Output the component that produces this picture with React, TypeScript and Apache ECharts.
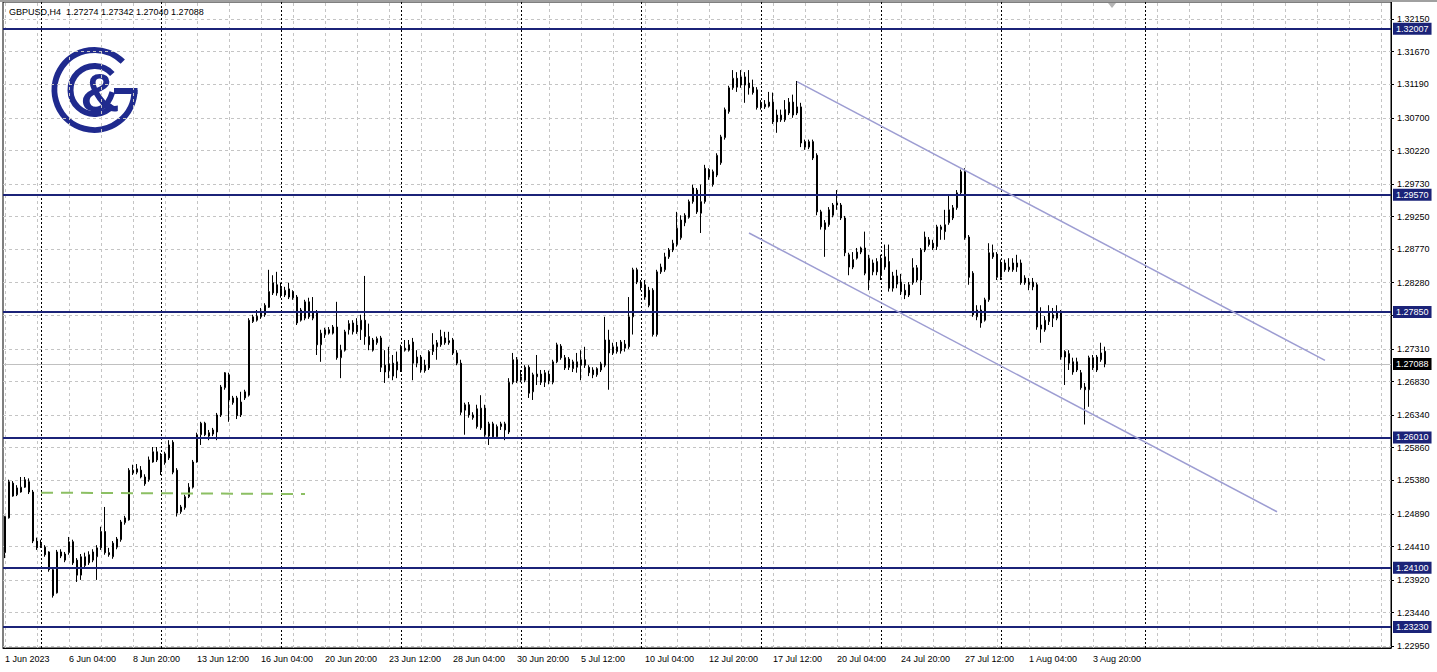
import React, { useEffect, useRef } from 'react';
import * as echarts from 'echarts';

const FONT = '"Liberation Sans", Arial, sans-serif';
const NAVY = '#1b2378';
const LOGO = '#1f2a8e';

const headerText = 'GBPUSD,H4  1.27274 1.27342 1.27040 1.27088';

const opens = [
  1.2432, 1.2483, 1.2534, 1.2517, 1.2521, 1.2528, 1.2536, 1.2521, 1.2449, 1.2442,
  1.2440, 1.2433, 1.2407, 1.2373, 1.2427, 1.2421, 1.2432, 1.2448, 1.2421, 1.2399,
  1.2413, 1.2417, 1.2421, 1.2426, 1.2439, 1.2463, 1.2432, 1.2426, 1.2440, 1.2451,
  1.2476, 1.2480, 1.2549, 1.2550, 1.2553, 1.2543, 1.2539, 1.2565, 1.2580, 1.2553,
  1.2564, 1.2571, 1.2594, 1.2553, 1.2492, 1.2498, 1.2514, 1.2528, 1.2565, 1.2605,
  1.2622, 1.2603, 1.2606, 1.2609, 1.2634, 1.2674, 1.2693, 1.2652, 1.2659, 1.2634,
  1.2659, 1.2663, 1.2771, 1.2773, 1.2778, 1.2781, 1.2792, 1.2813, 1.2825, 1.2820,
  1.2810, 1.2819, 1.2815, 1.2807, 1.2773, 1.2776, 1.2800, 1.2776, 1.2784, 1.2737,
  1.2752, 1.2754, 1.2754, 1.2763, 1.2718, 1.2729, 1.2759, 1.2756, 1.2766, 1.2759,
  1.2773, 1.2749, 1.2729, 1.2740, 1.2747, 1.2707, 1.2699, 1.2710, 1.2700, 1.2700,
  1.2729, 1.2729, 1.2741, 1.2710, 1.2719, 1.2707, 1.2703, 1.2727, 1.2734, 1.2737,
  1.2747, 1.2740, 1.2744, 1.2725, 1.2710, 1.2641, 1.2649, 1.2630, 1.2643, 1.2615,
  1.2644, 1.2603, 1.2621, 1.2602, 1.2617, 1.2612, 1.2609, 1.2682, 1.2715, 1.2685,
  1.2685, 1.2704, 1.2668, 1.2690, 1.2694, 1.2682, 1.2694, 1.2682, 1.2712, 1.2735,
  1.2718, 1.2716, 1.2702, 1.2704, 1.2707, 1.2715, 1.2704, 1.2700, 1.2693, 1.2700,
  1.2707, 1.2744, 1.2725, 1.2727, 1.2728, 1.2732, 1.2734, 1.2778, 1.2847, 1.2829,
  1.2825, 1.2817, 1.2817, 1.2752, 1.2844, 1.2847, 1.2866, 1.2876, 1.2884, 1.2894,
  1.2916, 1.2924, 1.2947, 1.2964, 1.2930, 1.2947, 1.2994, 1.2972, 1.2986, 1.3004,
  1.3041, 1.3079, 1.3114, 1.3128, 1.3118, 1.3130, 1.3121, 1.3115, 1.3111, 1.3085,
  1.3086, 1.3087, 1.3093, 1.3074, 1.3067, 1.3067, 1.3077, 1.3093, 1.3077, 1.3086,
  1.3035, 1.3027, 1.3035, 1.3015, 1.2932, 1.2906, 1.2913, 1.2927, 1.2942, 1.2942,
  1.2923, 1.2869, 1.2851, 1.2864, 1.2873, 1.2879, 1.2832, 1.2844, 1.2859, 1.2839,
  1.2866, 1.2859, 1.2820, 1.2838, 1.2829, 1.2817, 1.2810, 1.2828, 1.2832, 1.2832,
  1.2876, 1.2891, 1.2886, 1.2881, 1.2906, 1.2913, 1.2916, 1.2923, 1.2938, 1.2960,
  1.2991, 1.2895, 1.2842, 1.2778, 1.2788, 1.2773, 1.2803, 1.2872, 1.2870, 1.2836,
  1.2857, 1.2847, 1.2847, 1.2851, 1.2857, 1.2835, 1.2825, 1.2829, 1.2825, 1.2760,
  1.2759, 1.2771, 1.2776, 1.2776, 1.2785, 1.2727, 1.2724, 1.2712, 1.2712, 1.2696,
  1.2675, 1.2671, 1.2703, 1.2719, 1.2715, 1.27274,
];

const highs = [
  1.2486, 1.2539, 1.2537, 1.2531, 1.2543, 1.2543, 1.2541, 1.2524, 1.2454, 1.2451,
  1.2443, 1.2434, 1.2410, 1.2436, 1.2437, 1.2433, 1.2455, 1.2451, 1.2424, 1.2430,
  1.2432, 1.2434, 1.2437, 1.2443, 1.2470, 1.2499, 1.2439, 1.2449, 1.2455, 1.2480,
  1.2486, 1.2556, 1.2561, 1.2562, 1.2559, 1.2547, 1.2573, 1.2587, 1.2587, 1.2578,
  1.2580, 1.2597, 1.2597, 1.2556, 1.2502, 1.2517, 1.2534, 1.2568, 1.2608, 1.2624,
  1.2624, 1.2612, 1.2615, 1.2637, 1.2678, 1.2697, 1.2696, 1.2662, 1.2662, 1.2668,
  1.2671, 1.2776, 1.2781, 1.2788, 1.2791, 1.2798, 1.2847, 1.2839, 1.2844, 1.2828,
  1.2822, 1.2828, 1.2817, 1.2810, 1.2791, 1.2803, 1.2806, 1.2807, 1.2788, 1.2759,
  1.2762, 1.2763, 1.2766, 1.2800, 1.2737, 1.2759, 1.2773, 1.2773, 1.2776, 1.2781,
  1.2838, 1.2768, 1.2747, 1.2749, 1.2750, 1.2729, 1.2734, 1.2722, 1.2727, 1.2737,
  1.2744, 1.2744, 1.2747, 1.2729, 1.2722, 1.2715, 1.2729, 1.2754, 1.2744, 1.2759,
  1.2756, 1.2756, 1.2747, 1.2729, 1.2715, 1.2652, 1.2653, 1.2638, 1.2649, 1.2663,
  1.2649, 1.2624, 1.2624, 1.2620, 1.2624, 1.2624, 1.2688, 1.2725, 1.2719, 1.2700,
  1.2707, 1.2707, 1.2696, 1.2722, 1.2700, 1.2700, 1.2699, 1.2715, 1.2740, 1.2738,
  1.2722, 1.2719, 1.2715, 1.2725, 1.2729, 1.2734, 1.2707, 1.2704, 1.2704, 1.2712,
  1.2778, 1.2759, 1.2740, 1.2741, 1.2744, 1.2744, 1.2807, 1.2850, 1.2850, 1.2832,
  1.2832, 1.2822, 1.2820, 1.2847, 1.2856, 1.2872, 1.2879, 1.2891, 1.2932, 1.2927,
  1.2930, 1.2950, 1.2972, 1.2967, 1.2972, 1.3001, 1.2996, 1.2994, 1.3018, 1.3045,
  1.3085, 1.3117, 1.3140, 1.3137, 1.3140, 1.3137, 1.3140, 1.3126, 1.3115, 1.3096,
  1.3096, 1.3108, 1.3107, 1.3082, 1.3082, 1.3096, 1.3099, 1.3104, 1.3124, 1.3092,
  1.3038, 1.3038, 1.3038, 1.3018, 1.2935, 1.2920, 1.2939, 1.2945, 1.2964, 1.2945,
  1.2926, 1.2872, 1.2873, 1.2879, 1.2881, 1.2903, 1.2869, 1.2862, 1.2864, 1.2869,
  1.2884, 1.2884, 1.2844, 1.2847, 1.2841, 1.2826, 1.2829, 1.2864, 1.2854, 1.2879,
  1.2903, 1.2895, 1.2891, 1.2913, 1.2913, 1.2935, 1.2957, 1.2942, 1.2964, 1.2994,
  1.2996, 1.2898, 1.2845, 1.2795, 1.2795, 1.2806, 1.2886, 1.2884, 1.2873, 1.2862,
  1.2862, 1.2864, 1.2864, 1.2869, 1.2862, 1.2839, 1.2835, 1.2835, 1.2828, 1.2792,
  1.2779, 1.2795, 1.2791, 1.2795, 1.2788, 1.2729, 1.2729, 1.2718, 1.2718, 1.2700,
  1.2681, 1.2721, 1.2722, 1.2722, 1.2740, 1.27342,
];

const lows = [
  1.2424, 1.2482, 1.2514, 1.2515, 1.2520, 1.2527, 1.2518, 1.2446, 1.2436, 1.2439,
  1.2426, 1.2404, 1.2366, 1.2372, 1.2424, 1.2418, 1.2429, 1.2414, 1.2389, 1.2392,
  1.2410, 1.2414, 1.2418, 1.2392, 1.2436, 1.2429, 1.2426, 1.2423, 1.2437, 1.2448,
  1.2473, 1.2479, 1.2546, 1.2547, 1.2541, 1.2530, 1.2536, 1.2564, 1.2565, 1.2546,
  1.2561, 1.2568, 1.2547, 1.2485, 1.2489, 1.2495, 1.2512, 1.2526, 1.2564, 1.2590,
  1.2603, 1.2597, 1.2603, 1.2597, 1.2631, 1.2671, 1.2624, 1.2649, 1.2628, 1.2631,
  1.2656, 1.2661, 1.2769, 1.2771, 1.2775, 1.2778, 1.2791, 1.2810, 1.2809, 1.2806,
  1.2807, 1.2804, 1.2803, 1.2766, 1.2771, 1.2773, 1.2775, 1.2773, 1.2722, 1.2712,
  1.2747, 1.2752, 1.2752, 1.2715, 1.2688, 1.2727, 1.2752, 1.2752, 1.2753, 1.2744,
  1.2737, 1.2729, 1.2727, 1.2737, 1.2697, 1.2681, 1.2688, 1.2685, 1.2688, 1.2697,
  1.2727, 1.2727, 1.2685, 1.2704, 1.2696, 1.2696, 1.2700, 1.2722, 1.2715, 1.2734,
  1.2737, 1.2737, 1.2722, 1.2707, 1.2634, 1.2605, 1.2630, 1.2627, 1.2614, 1.2612,
  1.2602, 1.2590, 1.2599, 1.2599, 1.2612, 1.2597, 1.2606, 1.2679, 1.2681, 1.2682,
  1.2682, 1.2659, 1.2656, 1.2678, 1.2678, 1.2675, 1.2679, 1.2679, 1.2710, 1.2715,
  1.2700, 1.2700, 1.2697, 1.2696, 1.2685, 1.2703, 1.2691, 1.2688, 1.2690, 1.2697,
  1.2704, 1.2671, 1.2722, 1.2724, 1.2724, 1.2727, 1.2731, 1.2752, 1.2826, 1.2817,
  1.2803, 1.2792, 1.2749, 1.2749, 1.2841, 1.2844, 1.2863, 1.2873, 1.2881, 1.2891,
  1.2911, 1.2922, 1.2944, 1.2929, 1.2901, 1.2944, 1.2979, 1.2969, 1.2983, 1.3001,
  1.3038, 1.3076, 1.3111, 1.3108, 1.3114, 1.3092, 1.3104, 1.3104, 1.3082, 1.3082,
  1.3083, 1.3085, 1.3061, 1.3048, 1.3064, 1.3064, 1.3074, 1.3070, 1.3074, 1.3027,
  1.3023, 1.3024, 1.3008, 1.2927, 1.2906, 1.2866, 1.2910, 1.2924, 1.2935, 1.2920,
  1.2867, 1.2839, 1.2848, 1.2862, 1.2870, 1.2839, 1.2817, 1.2839, 1.2839, 1.2832,
  1.2847, 1.2815, 1.2815, 1.2820, 1.2810, 1.2804, 1.2807, 1.2825, 1.2829, 1.2810,
  1.2873, 1.2881, 1.2876, 1.2876, 1.2891, 1.2891, 1.2913, 1.2920, 1.2935, 1.2957,
  1.2891, 1.2825, 1.2778, 1.2773, 1.2762, 1.2771, 1.2800, 1.2863, 1.2832, 1.2832,
  1.2844, 1.2844, 1.2844, 1.2844, 1.2825, 1.2825, 1.2817, 1.2817, 1.2759, 1.2740,
  1.2756, 1.2766, 1.2763, 1.2773, 1.2715, 1.2678, 1.2700, 1.2693, 1.2697, 1.2671,
  1.2620, 1.2646, 1.2700, 1.2697, 1.2712, 1.27040,
];

const closes = [
  1.2485, 1.2536, 1.2515, 1.2527, 1.2528, 1.2539, 1.2521, 1.2449, 1.2439, 1.2446,
  1.2429, 1.2407, 1.2369, 1.2433, 1.2433, 1.2430, 1.2448, 1.2417, 1.2399, 1.2426,
  1.2426, 1.2429, 1.2433, 1.2439, 1.2463, 1.2432, 1.2429, 1.2446, 1.2452, 1.2477,
  1.2483, 1.2553, 1.2553, 1.2555, 1.2543, 1.2533, 1.2568, 1.2580, 1.2568, 1.2575,
  1.2577, 1.2590, 1.2550, 1.2490, 1.2499, 1.2514, 1.2528, 1.2565, 1.2605, 1.2622,
  1.2605, 1.2608, 1.2612, 1.2634, 1.2675, 1.2696, 1.2656, 1.2659, 1.2633, 1.2653,
  1.2668, 1.2773, 1.2778, 1.2779, 1.2785, 1.2795, 1.2815, 1.2828, 1.2813, 1.2810,
  1.2817, 1.2807, 1.2806, 1.2769, 1.2788, 1.2800, 1.2778, 1.2784, 1.2737, 1.2754,
  1.2759, 1.2759, 1.2763, 1.2718, 1.2729, 1.2756, 1.2768, 1.2769, 1.2756, 1.2773,
  1.2749, 1.2737, 1.2744, 1.2746, 1.2704, 1.2697, 1.2709, 1.2691, 1.2712, 1.2734,
  1.2732, 1.2737, 1.2710, 1.2719, 1.2700, 1.2699, 1.2727, 1.2737, 1.2740, 1.2749,
  1.2740, 1.2743, 1.2725, 1.2710, 1.2638, 1.2649, 1.2634, 1.2634, 1.2617, 1.2644,
  1.2605, 1.2621, 1.2602, 1.2617, 1.2621, 1.2621, 1.2682, 1.2715, 1.2684, 1.2690,
  1.2704, 1.2666, 1.2693, 1.2694, 1.2682, 1.2696, 1.2684, 1.2712, 1.2737, 1.2718,
  1.2703, 1.2704, 1.2712, 1.2712, 1.2715, 1.2707, 1.2696, 1.2693, 1.2702, 1.2709,
  1.2744, 1.2725, 1.2734, 1.2734, 1.2741, 1.2738, 1.2778, 1.2847, 1.2829, 1.2822,
  1.2807, 1.2795, 1.2752, 1.2844, 1.2851, 1.2866, 1.2876, 1.2886, 1.2908, 1.2920,
  1.2927, 1.2947, 1.2967, 1.2932, 1.2947, 1.2996, 1.2983, 1.2991, 1.3015, 1.3042,
  1.3082, 1.3114, 1.3128, 1.3115, 1.3130, 1.3118, 1.3114, 1.3107, 1.3085, 1.3092,
  1.3090, 1.3093, 1.3064, 1.3064, 1.3074, 1.3082, 1.3093, 1.3074, 1.3086, 1.3033,
  1.3027, 1.3035, 1.3011, 1.2932, 1.2910, 1.2916, 1.2935, 1.2942, 1.2945, 1.2923,
  1.2872, 1.2851, 1.2862, 1.2873, 1.2879, 1.2842, 1.2864, 1.2857, 1.2844, 1.2864,
  1.2851, 1.2820, 1.2838, 1.2826, 1.2815, 1.2810, 1.2825, 1.2850, 1.2850, 1.2876,
  1.2895, 1.2884, 1.2879, 1.2910, 1.2910, 1.2903, 1.2935, 1.2938, 1.2960, 1.2991,
  1.2894, 1.2836, 1.2781, 1.2788, 1.2769, 1.2803, 1.2872, 1.2866, 1.2836, 1.2857,
  1.2847, 1.2851, 1.2857, 1.2857, 1.2828, 1.2828, 1.2829, 1.2822, 1.2763, 1.2766,
  1.2773, 1.2784, 1.2781, 1.2785, 1.2719, 1.2719, 1.2710, 1.2697, 1.2700, 1.2674,
  1.2671, 1.2718, 1.2718, 1.2700, 1.2725, 1.27088,
];

const yTickValues = [
  1.2295, 1.2344, 1.2392, 1.2441, 1.2489, 1.2538, 1.2586, 1.2634, 1.2683, 1.2731,
  1.278, 1.2828, 1.2877, 1.2925, 1.2973, 1.3022, 1.307, 1.3119, 1.3167, 1.3215,
];
const Y_MIN = 1.22921;
const Y_MAX = 1.32399;

const levelValues = [1.32007, 1.2957, 1.2785, 1.2601, 1.241, 1.2323];
const lastPrice = 1.27088;
const channelUpper = [[198, 1.3123], [330, 1.2714]];
const channelLower = [[186, 1.2901], [318, 1.2492]];
const greenDashed = [[9, 1.252], [75, 1.2518]];
const separatorIdx = [9, 39, 69, 99, 129, 159, 189, 219, 249, 285];
const TOTAL_SLOTS = 347;

const MONTHS = ['Jan', 'Feb', 'Mar', 'Apr', 'May', 'Jun', 'Jul', 'Aug', 'Sep', 'Oct', 'Nov', 'Dec'];
const pad = (n: number) => (n < 10 ? '0' + n : '' + n);

function buildSlots(n: number): Date[] {
  const out: Date[] = [];
  let t = Date.UTC(2023, 5, 1, 12);
  while (out.length < n) {
    const d = new Date(t);
    const wd = d.getUTCDay();
    if (wd !== 0 && wd !== 6) out.push(d);
    t += 4 * 3600 * 1000;
  }
  return out;
}
const slots = buildSlots(TOTAL_SLOTS);
const categories = slots.map(
  (d) => `${d.getUTCDate()} ${MONTHS[d.getUTCMonth()]} ${pad(d.getUTCHours())}:00`
);
const firstLabel = `${slots[0].getUTCDate()} ${MONTHS[slots[0].getUTCMonth()]} ${slots[0].getUTCFullYear()}`;

const showLabel = (i: number) => i < opens.length && i % 16 === 0;

export default function App() {
  const ref = useRef<HTMLDivElement>(null);

  useEffect(() => {
    if (!ref.current) return;
    const chart = echarts.init(ref.current, null, { renderer: 'svg' });

    const candleData = opens.map((o, i) => [o, closes[i], lows[i], highs[i]]);

    const levelLines = levelValues.map((v) => ({
      yAxis: v,
      lineStyle: { color: NAVY, width: 2, type: 'solid' },
      label: {
        show: true,
        position: 'end',
        formatter: v.toFixed(5),
        color: '#ffffff',
        backgroundColor: NAVY,
        padding: [2, 3, 1, 3],
        fontSize: 9,
        fontFamily: FONT,
        distance: 2,
      },
    }));

    const gridVerticals: any[] = [];
    for (let i = 0; i < TOTAL_SLOTS; i += 8) {
      gridVerticals.push({
        xAxis: i,
        lineStyle: { color: '#c4c4c4', width: 1, type: [3, 3] },
        label: { show: false },
      });
    }
    const separators = separatorIdx.map((i) => ({
      xAxis: i,
      lineStyle: { color: '#000000', width: 1, type: [2, 2] },
      label: { show: false },
    }));

    const option: any = {
      animation: false,
      backgroundColor: '#ffffff',
      textStyle: { fontFamily: FONT },
      grid: {
        left: 3,
        right: 46,
        top: 2,
        bottom: 24,
        show: true,
        borderColor: '#000000',
        borderWidth: 1,
        backgroundColor: 'transparent',
      },
      xAxis: {
        type: 'category',
        data: categories,
        boundaryGap: true,
        axisLine: { show: true, lineStyle: { color: '#000000' } },
        axisTick: {
          show: true,
          inside: true,
          length: 3,
          alignWithLabel: true,
          interval: (i: number) => showLabel(i),
          lineStyle: { color: '#000000' },
        },
        axisLabel: {
          interval: (i: number) => showLabel(i),
          formatter: (_v: string, i: number) => (i === 0 ? firstLabel : categories[i]),
          align: 'left',
          color: '#000000',
          fontSize: 9,
          fontFamily: FONT,
          margin: 6,
        },
        splitLine: { show: false },
      },
      yAxis: {
        type: 'value',
        position: 'right',
        min: Y_MIN,
        max: Y_MAX,
        axisLine: { show: true, lineStyle: { color: '#000000' } },
        axisTick: {
          show: true,
          length: 3,
          customValues: yTickValues,
          lineStyle: { color: '#000000' },
        },
        axisLabel: {
          customValues: yTickValues,
          formatter: (v: number) => v.toFixed(5),
          color: '#000000',
          fontSize: 9,
          fontFamily: FONT,
          margin: 6,
        },
        splitLine: { show: true, lineStyle: { color: '#c4c4c4', width: 1, type: [3, 3] } },
      },
      graphic: [
        { type: 'rect', z: 20, shape: { x: 0, y: 0, width: 1437, height: 2 }, style: { fill: '#a0a0a0' } },
        {
          type: 'polygon',
          z: 20,
          shape: { points: [[1108, 3], [1116, 3], [1112, 8]] },
          style: { fill: '#b4b4b4' },
        },
        {
          type: 'text',
          z: 20,
          left: 9,
          top: 7,
          style: { text: headerText, fill: '#000000', fontSize: 9, fontFamily: FONT },
        },
        {
          type: 'group',
          z: 20,
          children: [
            {
              type: 'arc',
              shape: { cx: 94.5, cy: 90, r: 40, startAngle: 0, endAngle: (315 * Math.PI) / 180, clockwise: true },
              style: { stroke: LOGO, lineWidth: 6, fill: 'none' },
            },
            {
              type: 'line',
              shape: { x1: 114, y1: 91, x2: 137.5, y2: 91 },
              style: { stroke: LOGO, lineWidth: 6 },
            },
            {
              type: 'arc',
              shape: { cx: 94.5, cy: 90, r: 24, startAngle: (40 * Math.PI) / 180, endAngle: (318 * Math.PI) / 180, clockwise: true },
              style: { stroke: LOGO, lineWidth: 6, fill: 'none' },
            },
            {
              type: 'text',
              x: 100,
              y: 92,
              style: {
                text: '&',
                fill: LOGO,
                fontSize: 54,
                fontWeight: 'bold',
                fontFamily: FONT,
                align: 'center',
                verticalAlign: 'middle',
              },
            },
          ],
        },
      ],
      series: [
        {
          type: 'line',
          data: [],
          z: 1,
          silent: true,
          markLine: {
            z: 1,
            silent: true,
            precision: 5,
            symbol: ['none', 'none'],
            animation: false,
            data: [
              ...gridVerticals,
              ...separators,
              {
                yAxis: lastPrice,
                lineStyle: { color: '#c0c0c0', width: 1, type: 'solid' },
                label: {
                  show: true,
                  position: 'end',
                  formatter: lastPrice.toFixed(5),
                  color: '#ffffff',
                  backgroundColor: '#000000',
                  padding: [2, 3, 1, 3],
                  fontSize: 9,
                  fontFamily: FONT,
                  distance: 2,
                },
              },
            ],
          },
        },
        {
          type: 'candlestick',
          data: candleData,
          barWidth: 2,
          z: 3,
          itemStyle: {
            color: '#ffffff',
            color0: '#000000',
            borderColor: '#000000',
            borderColor0: '#000000',
            borderWidth: 1,
          },
          markLine: {
            silent: true,
            precision: 5,
            symbol: ['none', 'none'],
            animation: false,
            data: [
              ...levelLines,
              [
                { coord: channelUpper[0], lineStyle: { color: '#9d9dd2', width: 1.5, type: 'solid' }, label: { show: false } },
                { coord: channelUpper[1] },
              ],
              [
                { coord: channelLower[0], lineStyle: { color: '#9d9dd2', width: 1.5, type: 'solid' }, label: { show: false } },
                { coord: channelLower[1] },
              ],
              [
                { coord: greenDashed[0], lineStyle: { color: '#8cbf63', width: 2, type: [12, 8] }, label: { show: false } },
                { coord: greenDashed[1] },
              ],
            ],
          },
        },
      ],
    };

    chart.setOption(option);
    return () => chart.dispose();
  }, []);

  return (
    <div
      ref={ref}
      style={{ position: 'fixed', left: 0, top: 0, width: 1437, height: 672, background: '#ffffff' }}
    />
  );
}
